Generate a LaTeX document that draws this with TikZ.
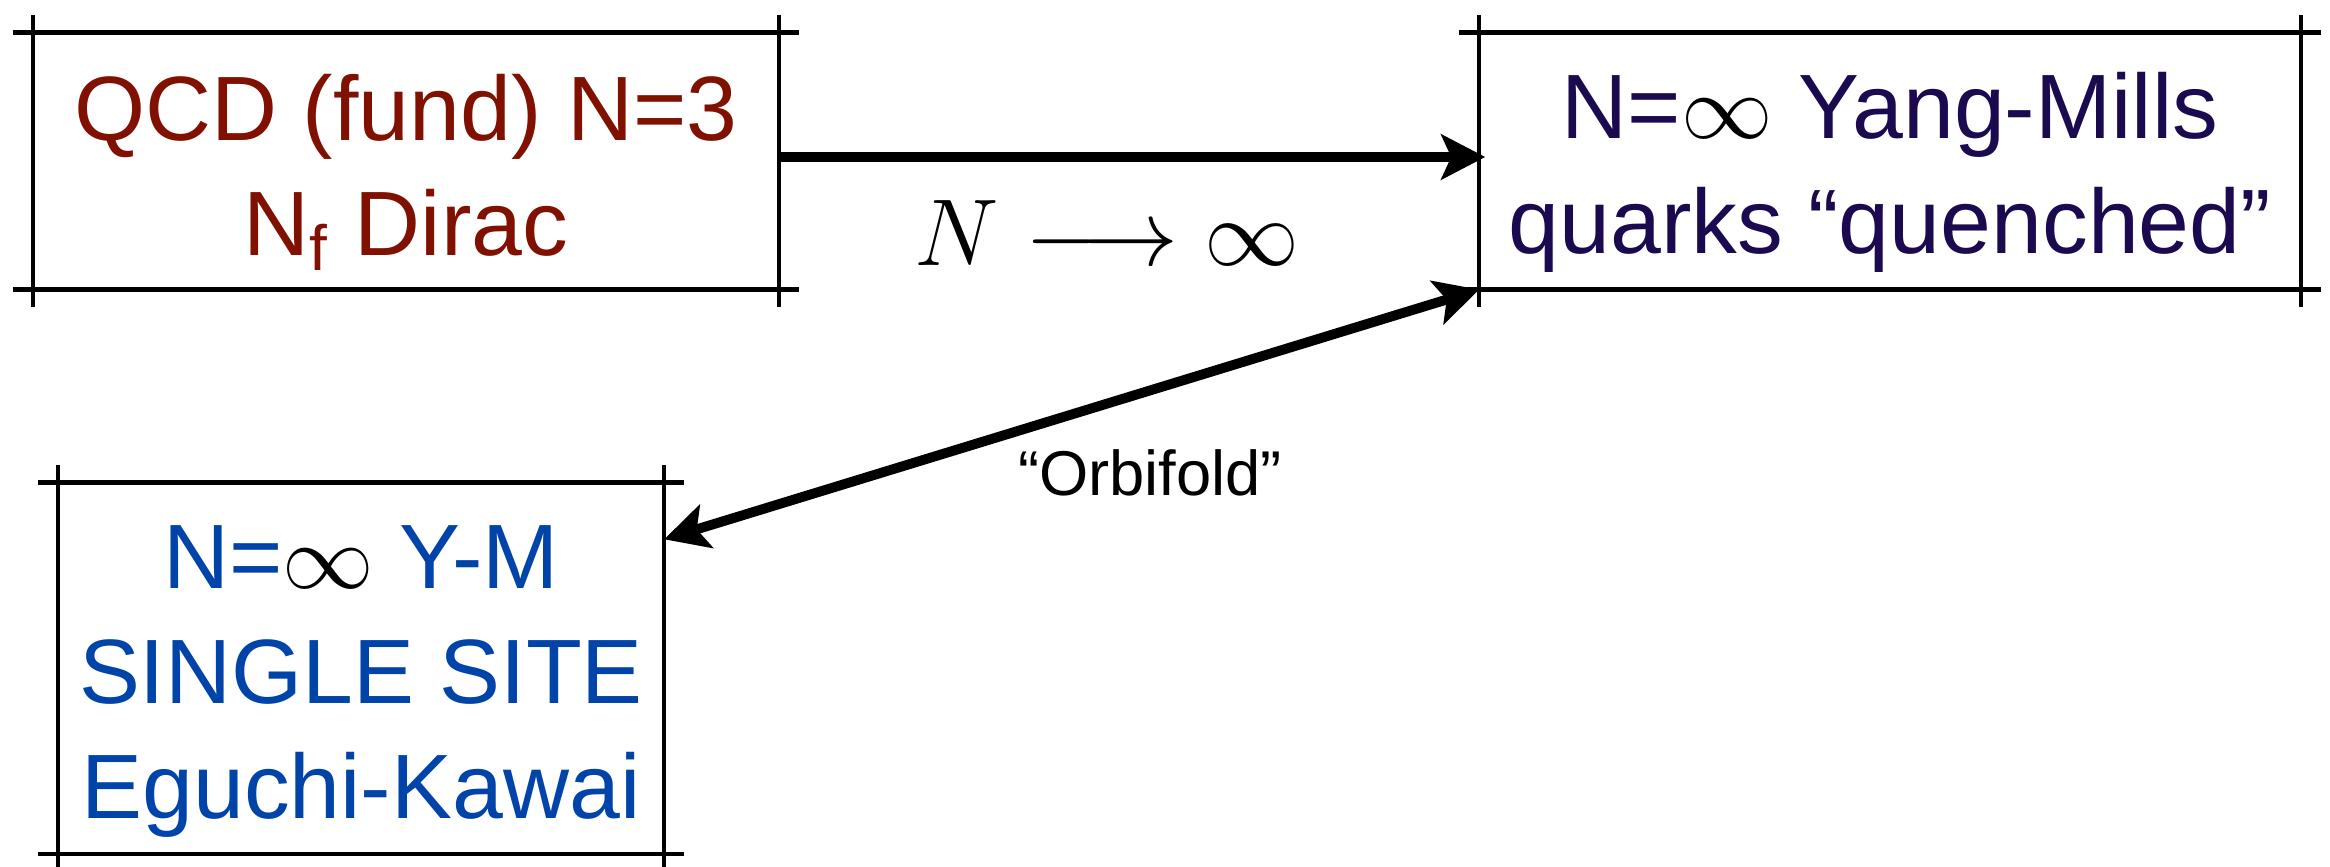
\documentclass[tikz,border=0pt]{standalone}
\usepackage{fix-cm}
\usepackage{fontspec}
\setmainfont{Liberation Sans}
\usetikzlibrary{arrows.meta,calc}
\definecolor{QcdRed}{RGB}{128,16,0}
\definecolor{YmNavy}{RGB}{28,10,80}
\definecolor{EkBlue}{RGB}{0,68,170}
\newcommand{\blackinf}{\textcolor{black}{$\infty$}}
\tikzset{
    lim/diagram/.style={
        line cap=butt,
        every node/.style={inner sep=0pt, outer sep=0pt}
    },
    lim/box/.style={minimum height=2.57cm},
    lim/text/.style={align=center, font=\fontsize{26}{32.7}\selectfont},
    lim/frame/.style={draw=black, line width=1.2pt},
    lim/tip/.style={Stealth[length=4.4mm, width=4.5mm, inset=1mm]},
    lim/map/.style={draw=black, line width=2.8pt, -{Stealth[length=4.4mm, width=4.5mm, inset=1mm]}},
    lim/orbifold/.style={
        draw=black, line width=2.8pt,
        {Stealth[length=4.4mm, width=4.5mm, inset=1mm]}-{Stealth[length=4.4mm, width=4.5mm, inset=1mm]}
    },
    lim/limit/.style={font=\fontsize{27}{30}\selectfont},
    lim/label/.style={font=\fontsize{18}{20}\selectfont}
}

\begin{document}
\begin{tikzpicture}[lim/diagram, x=0.01cm, y=-0.01cm]
    \useasboundingbox (0,0) rectangle (2330,867);
    \node[lim/box, minimum width=7.46cm] (qcd) at (406,161) {};
    \node[lim/box, minimum width=8.21cm] (ym) at (1890,161) {};
    \node[lim/box, minimum width=6.06cm, minimum height=3.71cm] (ek) at (361,668) {};
    \node[lim/text, text=QcdRed] (qcd-text) at ($(qcd)+(0,11)$)
        {QCD (fund) N=3\\N\textsubscript{f} Dirac};
    \node[lim/text, text=YmNavy] (ym-text) at ($(ym)+(0,11)$)
        {N=\blackinf{} Yang-Mills\\quarks ``quenched''};
    \node[lim/text, text=EkBlue] (ek-text) at ($(ek)+(0,14)$)
        {N=\blackinf{} Y-M\\SINGLE SITE\\Eguchi-Kawai};
    % frames with overshooting edges
    \foreach \b in {qcd,ym,ek} {
        \draw[lim/frame] ($(\b.north west)+(-20,0)$) -- ($(\b.north east)+(20,0)$);
        \draw[lim/frame] ($(\b.south west)+(-20,0)$) -- ($(\b.south east)+(20,0)$);
        \draw[lim/frame] ($(\b.north west)+(0,-17)$) -- ($(\b.south west)+(0,17)$);
        \draw[lim/frame] ($(\b.north east)+(0,-17)$) -- ($(\b.south east)+(0,17)$);
    }
    \draw[lim/map] ($(qcd.east)+(0,-4)$) -- ($(ym.west)+(6,-4)$);
    \node[lim/limit] (limit) at (1107,233) {$N\longrightarrow\infty$};
    \draw[lim/orbifold] (ek.23) -- (ym.south west);
    \node[lim/label] (orb) at (1150,473) {``Orbifold''};
\end{tikzpicture}
\end{document}
